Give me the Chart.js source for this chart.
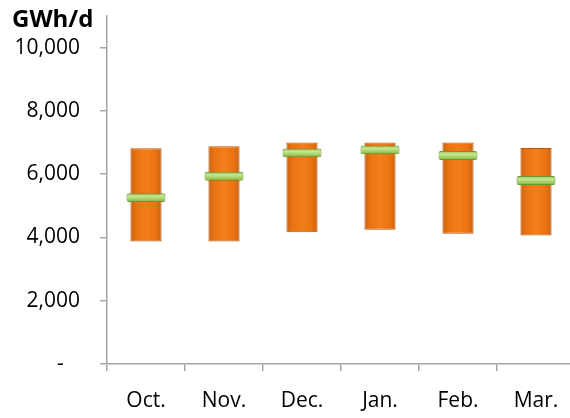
<!DOCTYPE html>
<html>
<head>
<meta charset="utf-8">
<script src="https://cdn.jsdelivr.net/npm/chart.js@4"></script>
<style>
  html, body { margin: 0; padding: 0; background: #fff; overflow: hidden; }
  #wrap { width: 575px; height: 418px; }
</style>
</head>
<body>
<div id="wrap"><canvas id="gasChart"></canvas></div>
<script>
const months = ['Oct.', 'Nov.', 'Dec.', 'Jan.', 'Feb.', 'Mar.'];
const rangeLow = [3870, 3870, 4165, 4240, 4115, 4060];
const rangeHigh = [6820, 6880, 7005, 7005, 7005, 6830];
const avgDemand = [5260, 5935, 6675, 6770, 6590, 5800];
const yTicks = [0, 2000, 4000, 6000, 8000, 10000];

const markerHalf = 140;
const fontFamily = "'Open Sans', 'Liberation Sans', sans-serif";

// orange bars: darker edges, bright middle (like the bevelled Excel bars)
function orangeFill(c) {
    const xs = c.chart.scales.x;
    if (c.type !== 'data' || !xs || xs.width === undefined) return '#ec7312';
    const cx = xs.getPixelForValue(c.dataIndex);
    const w = xs.width / months.length * 0.4;
    const g = c.chart.ctx.createLinearGradient(cx - w / 2, 0, cx + w / 2, 0);
    g.addColorStop(0, '#c9600d');
    g.addColorStop(0.18, '#ea7212');
    g.addColorStop(0.5, '#f47e1a');
    g.addColorStop(0.82, '#ea7212');
    g.addColorStop(1, '#c9600d');
    return g;
}

function greenFill(c) {
    const ys = c.chart.scales.y;
    if (c.type !== 'data' || !ys || ys.height === undefined) return '#a3d065';
    const cy = ys.getPixelForValue(avgDemand[c.dataIndex]);
    const g = c.chart.ctx.createLinearGradient(0, cy - 4.5, 0, cy + 4.5);
    g.addColorStop(0, '#8cc04a');
    g.addColorStop(0.35, '#c6e596');
    g.addColorStop(0.7, '#9fcf5e');
    g.addColorStop(1, '#7aaa3c');
    return g;
}

const unitLabel = {
    id: 'unitLabel',
    afterDraw(chart) {
        const ctx = chart.ctx;
        ctx.save();
        ctx.font = 'bold 24px ' + fontFamily;
        ctx.fillStyle = '#000';
        ctx.textBaseline = 'middle';
        ctx.fillText('GWh/d', 12, 20);
        ctx.restore();
    }
};

const ctx = document.getElementById('gasChart').getContext('2d');
const chart = new Chart(ctx, {
    type: 'bar',
    data: {
        labels: months,
        datasets: [{
            label: 'Average',
            data: avgDemand.map(v => [v - markerHalf, v + markerHalf]),
            backgroundColor: greenFill,
            borderColor: '#6a9538',
            borderWidth: 1,
            borderRadius: 2,
            borderSkipped: false,
            barPercentage: 0.5,
            categoryPercentage: 1,
            grouped: false,
            order: 0
        }, {
            label: 'Range',
            data: rangeLow.map((v, i) => [v, rangeHigh[i]]),
            backgroundColor: orangeFill,
            borderColor: '#b8580f',
            borderWidth: 1,
            borderSkipped: false,
            barPercentage: 0.4,
            categoryPercentage: 1,
            grouped: false,
            order: 1
        }]
    },
    options: {
        responsive: true,
        maintainAspectRatio: false,
        animation: false,
        layout: { padding: { left: 12, top: 16, right: 0, bottom: 6 } },
        plugins: {
            legend: { display: false },
            tooltip: { enabled: false }
        },
        scales: {
            x: {
                grid: {
                    display: true,
                    drawOnChartArea: false,
                    drawTicks: true,
                    tickLength: 7,
                    color: '#a6a6a6',
                    lineWidth: 1.5
                },
                border: { color: '#a6a6a6', width: 1.5 },
                ticks: {
                    padding: 17,
                    color: '#000',
                    font: { family: fontFamily, size: 21 }
                },
                afterFit(scale) {
                    scale.height = 48;
                    scale.paddingLeft = 0;
                    scale.paddingRight = 0;
                }
            },
            y: {
                min: 0,
                max: 11000,
                afterBuildTicks(scale) {
                    scale.ticks = yTicks.map(v => ({ value: v }));
                },
                grid: {
                    display: true,
                    drawOnChartArea: false,
                    drawTicks: true,
                    tickLength: 7,
                    color: '#a6a6a6',
                    lineWidth: 1.5
                },
                border: { color: '#a6a6a6', width: 1.5 },
                ticks: {
                    padding: 20,
                    color: '#000',
                    font: { family: fontFamily, size: 21 },
                    callback: v => v === 0 ? '-   ' : v.toLocaleString('en-US')
                },
                afterFit(scale) {
                    scale.width = 95;
                    scale.paddingTop = 0;
                    scale.paddingBottom = 0;
                }
            }
        }
    },
    plugins: [unitLabel]
});
</script>
</body>
</html>
